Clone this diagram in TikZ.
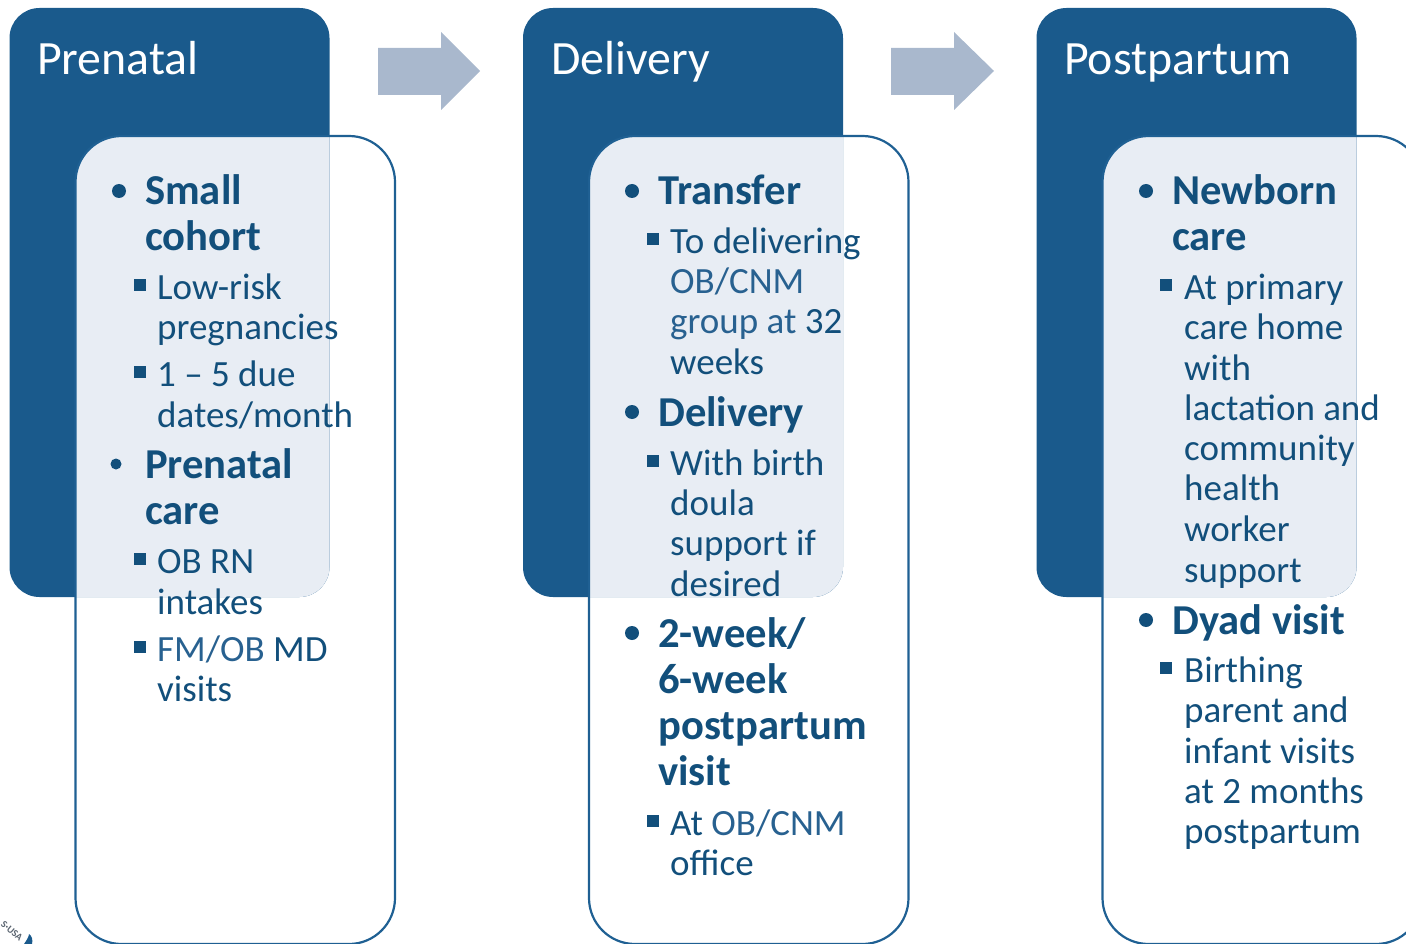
\documentclass[tikz,border=0pt]{standalone}
\usepackage{fontspec}
\setmainfont{Carlito}
\definecolor{hdr}{HTML}{1A5A8C}
\definecolor{pale}{HTML}{E8EDF4}
\definecolor{edge}{HTML}{1F6093}
\definecolor{ink}{HTML}{124F7B}
\definecolor{inkl}{HTML}{286190}
\definecolor{arr}{HTML}{A9B8CD}
\definecolor{logot}{HTML}{5A6470}
\newcommand{\lite}[1]{\textcolor{inkl}{#1}}
\tikzset{
 x=1pt,y=-1pt,
 title/.style={anchor=base west,inner sep=0pt,text=white,font=\fontsize{47.8}{48}\selectfont},
 big/.style={anchor=base west,inner sep=0pt,text=ink,font=\fontsize{42.6}{44}\selectfont\bfseries},
 small/.style={anchor=base west,inner sep=0pt,text=ink,font=\fontsize{37}{40}\selectfont},
 dotb/.style={circle,fill=ink,inner sep=0pt,minimum size=14pt},
 sq/.style={rectangle,fill=ink,inner sep=0pt,minimum size=11.5pt},
 flow/.style={fill=arr},
}
\newcommand{\panel}[1]{%
 \begin{scope}[xshift=#1]
 \fill[hdr,rounded corners=30pt] (9.5,8) rectangle (329.5,597);
 \begin{scope}
  \clip[rounded corners=30pt] (9.5,8) rectangle (329.5,597);
  \fill[pale,rounded corners=46pt] (75.5,136) rectangle (395,990);
 \end{scope}
 \draw[edge,line width=2.2pt,rounded corners=46pt] (75.5,136) rectangle (395,944);
 \end{scope}}
\begin{document}
\begin{tikzpicture}
\useasboundingbox (0,0) rectangle (1406,944);
\clip (0,0) rectangle (1406,944);
\panel{0pt}
\panel{513.5pt}
\panel{1027pt}
\fill[flow] (378,48)--(441,48)--(441,32)--(480,71)--(441,110)--(441,95)--(378,95)--cycle;
\fill[flow] (891,48)--(954,48)--(954,32)--(994,71)--(954,110)--(954,95)--(891,95)--cycle;
\node[title] (t1) at (37,75) {Prenatal};
\node[title] (t2) at (551,75) {Delivery};
\node[title] (t3) at (1064,75) {Postpartum};
% column 1
\node[dotb] (b11) at (119,191) {};
\node[big] (a1) at (145,205) {Small};
\node[big] (a2) at (145,251) {cohort};
\node[sq] (s11) at (140,285) {};
\node[small] (a3) at (157,299) {Low-risk};
\node[small] (a4) at (157,339) {pregnancies};
\node[sq] (s12) at (140,372) {};
\node[small] (a5) at (157,386) {1 – 5 due};
\node[small] (a6) at (157,427) {dates/month};
\node[dotb,minimum size=11pt] (b12) at (116,464) {};
\node[big] (a7) at (145,478) {Prenatal};
\node[big] (a8) at (145,524) {care};
\node[sq] (s13) at (140,559) {};
\node[small] (a9) at (157,573) {OB RN};
\node[small] (a10) at (157,614) {intakes};
\node[sq] (s14) at (140,647) {};
\node[small] (a11) at (157,661) {\lite{FM/OB} MD};
\node[small] (a12) at (157,701) {visits};
% column 2
\node[dotb] (b21) at (632,191) {};
\node[big] (c1) at (658,205) {Transfer};
\node[sq] (s21) at (653,239) {};
\node[small] (c2) at (670,254) {To delivering};
\node[small] (c3) at (670,293) {\lite{OB/CNM}};
\node[small] (c4) at (670,333) {\lite{group at} 32};
\node[small] (c5) at (670,374) {weeks};
\node[dotb] (b22) at (632,412) {};
\node[big] (c6) at (658,426) {Delivery};
\node[sq] (s22) at (653,461) {};
\node[small] (c7) at (670,475) {With birth};
\node[small] (c8) at (670,515) {doula};
\node[small] (c9) at (670,555) {support if};
\node[small] (c10) at (670,596) {desired};
\node[dotb] (b23) at (632,633) {};
\node[big] (c11) at (658,647) {2-week/};
\node[big] (c12) at (658,693) {6-week};
\node[big] (c13) at (658,739) {postpartum};
\node[big] (c14) at (658,785) {visit};
\node[sq] (s23) at (653,821) {};
\node[small] (c15) at (670,835) {At \lite{OB/CNM}};
\node[small] (c16) at (670,875) {office};
% column 3
\node[dotb] (b31) at (1146,191) {};
\node[big] (d1) at (1172,205) {Newborn};
\node[big] (d2) at (1172,251) {care};
\node[sq] (s31) at (1166,285) {};
\node[small] (d3) at (1184,299) {At primary};
\node[small] (d4) at (1184,339) {care home};
\node[small] (d5) at (1184,380) {with};
\node[small] (d6) at (1184,420) {lactation and};
\node[small] (d7) at (1184,460) {community};
\node[small] (d8) at (1184,500) {health};
\node[small] (d9) at (1184,541) {worker};
\node[small] (d10) at (1184,582) {support};
\node[dotb] (b32) at (1146,620) {};
\node[big] (d11) at (1172,634) {Dyad visit};
\node[sq] (s32) at (1166,668) {};
\node[small] (d12) at (1184,682) {Birthing};
\node[small] (d13) at (1184,722) {parent and};
\node[small] (d14) at (1184,763) {infant visits};
\node[small] (d15) at (1184,803) {at 2 months};
\node[small] (d16) at (1184,843) {postpartum};
% logo fragment
\fill[hdr] (24,944) .. controls (27,940) and (29,936) .. (29,934) .. controls (32,936) and (33,940) .. (32,944) -- cycle;
\node[anchor=center,inner sep=0pt,rotate=-40,text=logot,font=\fontsize{10}{10}\selectfont\bfseries] (logo) at (12,931) {S·USA};
\end{tikzpicture}
\end{document}
